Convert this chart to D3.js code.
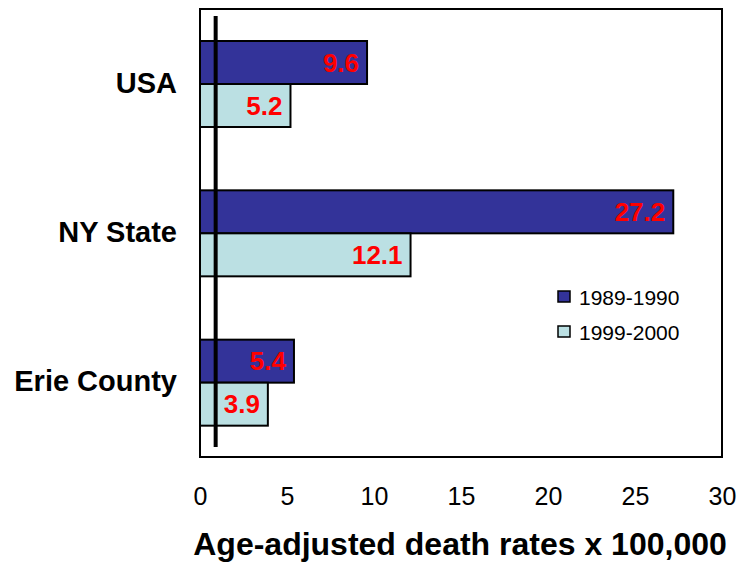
<!DOCTYPE html>
<html>
<head>
<meta charset="utf-8">
<script src="https://cdn.jsdelivr.net/npm/d3@7"></script>
<style>
  html, body { margin: 0; padding: 0; background: #fff; }
  svg { display: block; font-family: Arial, "Liberation Sans", sans-serif; }
</style>
</head>
<body>
<svg id="chart" width="755" height="563"></svg>
<script>
// Age-adjusted death rates per 100,000 by region and period
const regions = ["USA", "NY State", "Erie County"];
const periods = ["1989-1990", "1999-2000"];
const rates1989 = [9.6, 27.2, 5.4];
const rates1999 = [5.2, 12.1, 3.9];
const xTicks = [0, 5, 10, 15, 20, 25, 30];
const referenceValue = 0.9;
const periodColors = ["#333399", "#BBE0E3"];

const svg = d3.select("#chart");
const plot = { left: 200, top: 9, right: 722, bottom: 457 };

const x = d3.scaleLinear().domain([0, 30]).range([plot.left, plot.right]);
const y = d3.scaleBand().domain(regions).range([plot.top, plot.bottom]);
const sub = d3.scaleBand().domain(periods).range([32, 118]);

const rows = regions.map((r, i) => ({ region: r, values: [rates1989[i], rates1999[i]] }));

// plot frame
svg.append("rect")
  .attr("x", plot.left).attr("y", plot.top)
  .attr("width", plot.right - plot.left).attr("height", plot.bottom - plot.top)
  .attr("fill", "#fff").attr("stroke", "#000").attr("stroke-width", 2);

// bars
const groups = svg.selectAll("g.region").data(rows).join("g")
  .attr("class", "region")
  .attr("transform", d => `translate(0,${y(d.region)})`);

groups.selectAll("rect").data(d => d.values.map((v, j) => ({ v, p: periods[j], j })))
  .join("rect")
  .attr("x", x(0))
  .attr("y", d => sub(d.p))
  .attr("width", d => x(d.v) - x(0))
  .attr("height", sub.bandwidth())
  .attr("fill", d => periodColors[d.j])
  .attr("stroke", "#000").attr("stroke-width", 2);

// reference line
svg.append("line")
  .attr("x1", x(referenceValue)).attr("x2", x(referenceValue))
  .attr("y1", 16).attr("y2", 447)
  .attr("stroke", "#000").attr("stroke-width", 4);

// value labels
groups.selectAll("text.val").data(d => d.values.map((v, j) => ({ v, p: periods[j] })))
  .join("text")
  .attr("class", "val")
  .attr("x", d => x(d.v) - 8)
  .attr("y", d => sub(d.p) + sub.bandwidth() / 2 + 9)
  .attr("text-anchor", "end")
  .attr("fill", "#FF0000")
  .attr("font-weight", "bold")
  .attr("font-size", 26)
  .text(d => d.v.toFixed(1));

// category labels
svg.selectAll("text.cat").data(regions).join("text")
  .attr("class", "cat")
  .attr("x", 177)
  .attr("y", d => y(d) + y.bandwidth() / 2 + 9)
  .attr("text-anchor", "end")
  .attr("font-weight", "bold")
  .attr("font-size", 29)
  .text(d => d);

// x axis tick labels
const xAxis = d3.axisBottom(x).tickValues(xTicks).tickSize(0).tickPadding(0);
const ax = svg.append("g").attr("transform", `translate(0,${plot.bottom})`).call(xAxis);
ax.select(".domain").remove();
ax.selectAll("text")
  .attr("y", 48)
  .attr("dy", 0)
  .attr("font-size", 25)
  .attr("font-family", "Arial, 'Liberation Sans', sans-serif")
  .attr("fill", "#000");

// axis title
svg.append("text")
  .attr("x", 460).attr("y", 555)
  .attr("text-anchor", "middle")
  .attr("font-weight", "bold")
  .attr("font-size", 32)
  .text("Age-adjusted death rates x 100,000");

// legend
const legend = svg.append("g").attr("transform", "translate(558,291)");
const li = legend.selectAll("g").data(periods).join("g")
  .attr("transform", (d, i) => `translate(0,${i * 35})`);
li.append("rect")
  .attr("x", 0).attr("y", 0).attr("width", 12).attr("height", 11)
  .attr("fill", (d, i) => periodColors[i])
  .attr("stroke", "#000").attr("stroke-width", 1.5);
li.append("text")
  .attr("x", 21).attr("y", 14)
  .attr("font-size", 21)
  .text(d => d);
</script>
</body>
</html>
